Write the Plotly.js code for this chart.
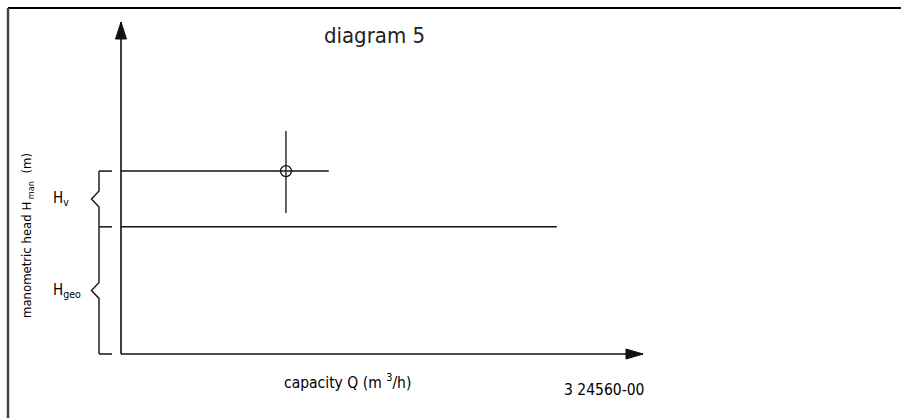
<!DOCTYPE html>
<html>
<head>
<meta charset="utf-8">
<script src="https://cdn.plot.ly/plotly-3.0.1.min.js"></script>
<style>
  html, body { margin: 0; padding: 0; background: #fff; overflow: hidden; }
  #chart { width: 901px; height: 418px; }
</style>
</head>
<body>
<div id="chart"></div>
<script>
// ---- chart values (Q in % of axis length, H in % of axis height) ----
const headLevelNames  = ['H<sub>geo</sub>', 'H<sub>v</sub>'];   // brace labels, bottom to top
const headLevelValues = [38.3, 55.1];    // H_geo, then H_man = H_geo + H_v
const headLineQEnd    = [83.5, 39.8];    // where each horizontal head line stops
const dutyPointQ      = [31.6];
const dutyPointH      = [55.1];
const dutyStemH       = [42.5, 67.2];    // vertical mark through the duty point
const axisMaxQ = 100;
const axisMaxH = 100;

// ---- page geometry ----
const W = 901, H = 418;
const originPx = { x: 121, y: 354 };      // where the two axes meet
const tipPx    = { x: 643, y: 22 };       // arrow tips
const qPerPx = axisMaxQ / (tipPx.x - originPx.x);
const hPerPx = axisMaxH / (originPx.y - tipPx.y);
const xRange = [-originPx.x * qPerPx, (W - originPx.x) * qPerPx];
const yRange = [-(H - originPx.y) * hPerPx, originPx.y * hPerPx];
const dq = px => px * qPerPx;   // horizontal pixel offset -> Q units
const dh = px => px * hPerPx;   // vertical pixel offset -> H units

const FONT = '"DejaVu Sans Condensed", "DejaVu Sans", sans-serif';
const INK = '#111';

const traces = [];

// axes
traces.push({ x: [0, 0], y: [0, axisMaxH], mode: 'lines',
  line: { color: INK, width: 1.6 }, hoverinfo: 'skip' });
traces.push({ x: [0, axisMaxQ], y: [0, 0], mode: 'lines',
  line: { color: INK, width: 1.6 }, hoverinfo: 'skip' });

// horizontal head lines
headLevelValues.forEach((h, i) => {
  traces.push({ x: [0, headLineQEnd[i]], y: [h, h], mode: 'lines',
    line: { color: INK, width: 1.5 }, hoverinfo: 'skip' });
});

// duty point: vertical stem and open circle
traces.push({ x: [dutyPointQ[0], dutyPointQ[0]], y: dutyStemH, mode: 'lines',
  line: { color: '#333', width: 1.5 }, hoverinfo: 'skip' });
traces.push({ x: dutyPointQ, y: dutyPointH, mode: 'markers',
  marker: { symbol: 'circle-open', size: 11, color: INK, line: { width: 1.3, color: INK } },
  hoverinfo: 'skip' });

// braces left of the head axis
const braceQ = dq(-22), cuspQ = dq(-29.5), tickEndQ = dq(-9);
const cuspHalf = dh(8);
const levels = [0].concat(headLevelValues);
levels.forEach(h => {
  traces.push({ x: [braceQ, tickEndQ], y: [h, h], mode: 'lines',
    line: { color: INK, width: 1.5 }, hoverinfo: 'skip' });
});
const annotations = [];
for (let i = 0; i < levels.length - 1; i++) {
  const lo = levels[i], hi = levels[i + 1], mid = (lo + hi) / 2;
  traces.push({
    x: [braceQ, braceQ, cuspQ, braceQ, braceQ],
    y: [lo, mid - cuspHalf, mid, mid + cuspHalf, hi],
    mode: 'lines', line: { color: '#222', width: 1.5 }, hoverinfo: 'skip'
  });
  annotations.push({ x: dq(-70), y: mid, xref: 'x', yref: 'y',
    xanchor: 'left', yanchor: 'middle', showarrow: false,
    text: headLevelNames[i], font: { family: FONT, size: 15, color: '#000' } });
}

// text labels
annotations.push({ x: 28 / W, y: 1 - 236 / H, xref: 'paper', yref: 'paper',
  xanchor: 'center', yanchor: 'middle', showarrow: false, textangle: -90,
  text: 'manometric head H<sub> man</sub>&nbsp; (m)',
  font: { family: FONT, size: 13, color: '#000' } });
annotations.push({ x: 347 / W, y: 1 - 381 / H, xref: 'paper', yref: 'paper',
  xanchor: 'center', yanchor: 'middle', showarrow: false,
  text: 'capacity Q (m <sup>3</sup>/h)',
  font: { family: FONT, size: 15.5, color: '#000' } });
annotations.push({ x: 603.5 / W, y: 1 - 390 / H, xref: 'paper', yref: 'paper',
  xanchor: 'center', yanchor: 'middle', showarrow: false,
  text: '3 24560-00',
  font: { family: FONT, size: 15.5, color: '#000' } });

const shapes = [
  // frame: top and left edges
  { type: 'line', xref: 'paper', yref: 'paper', x0: 8 / W, x1: 1, y0: 1 - 8 / H, y1: 1 - 8 / H,
    line: { color: '#000', width: 2.2 } },
  { type: 'line', xref: 'paper', yref: 'paper', x0: 8 / W, x1: 8 / W, y0: 0, y1: 1 - 8 / H,
    line: { color: '#444', width: 2.5 } },
  // arrow heads at the axis ends
  { type: 'path', xref: 'x', yref: 'y', xsizemode: 'pixel', ysizemode: 'pixel',
    xanchor: 0, yanchor: axisMaxH, path: 'M0,0 L-5.5,-17 L5.5,-17 Z',
    fillcolor: INK, line: { color: INK, width: 1 } },
  { type: 'path', xref: 'x', yref: 'y', xsizemode: 'pixel', ysizemode: 'pixel',
    xanchor: axisMaxQ, yanchor: 0, path: 'M0,0 L-17,5 L-17,-5 Z',
    fillcolor: INK, line: { color: INK, width: 1 } }
];

const layout = {
  width: W, height: H,
  margin: { l: 0, r: 0, t: 0, b: 0, pad: 0 },
  paper_bgcolor: '#fff', plot_bgcolor: '#fff',
  showlegend: false,
  title: { text: 'diagram 5', x: 374.5 / W, xanchor: 'center', y: 1 - 35 / H, yanchor: 'middle',
    font: { family: FONT, size: 22, color: '#222' } },
  xaxis: { range: xRange, visible: false, fixedrange: true },
  yaxis: { range: yRange, visible: false, fixedrange: true },
  shapes: shapes,
  annotations: annotations
};

Plotly.newPlot('chart', traces, layout, { staticPlot: true, displayModeBar: false });
</script>
</body>
</html>
